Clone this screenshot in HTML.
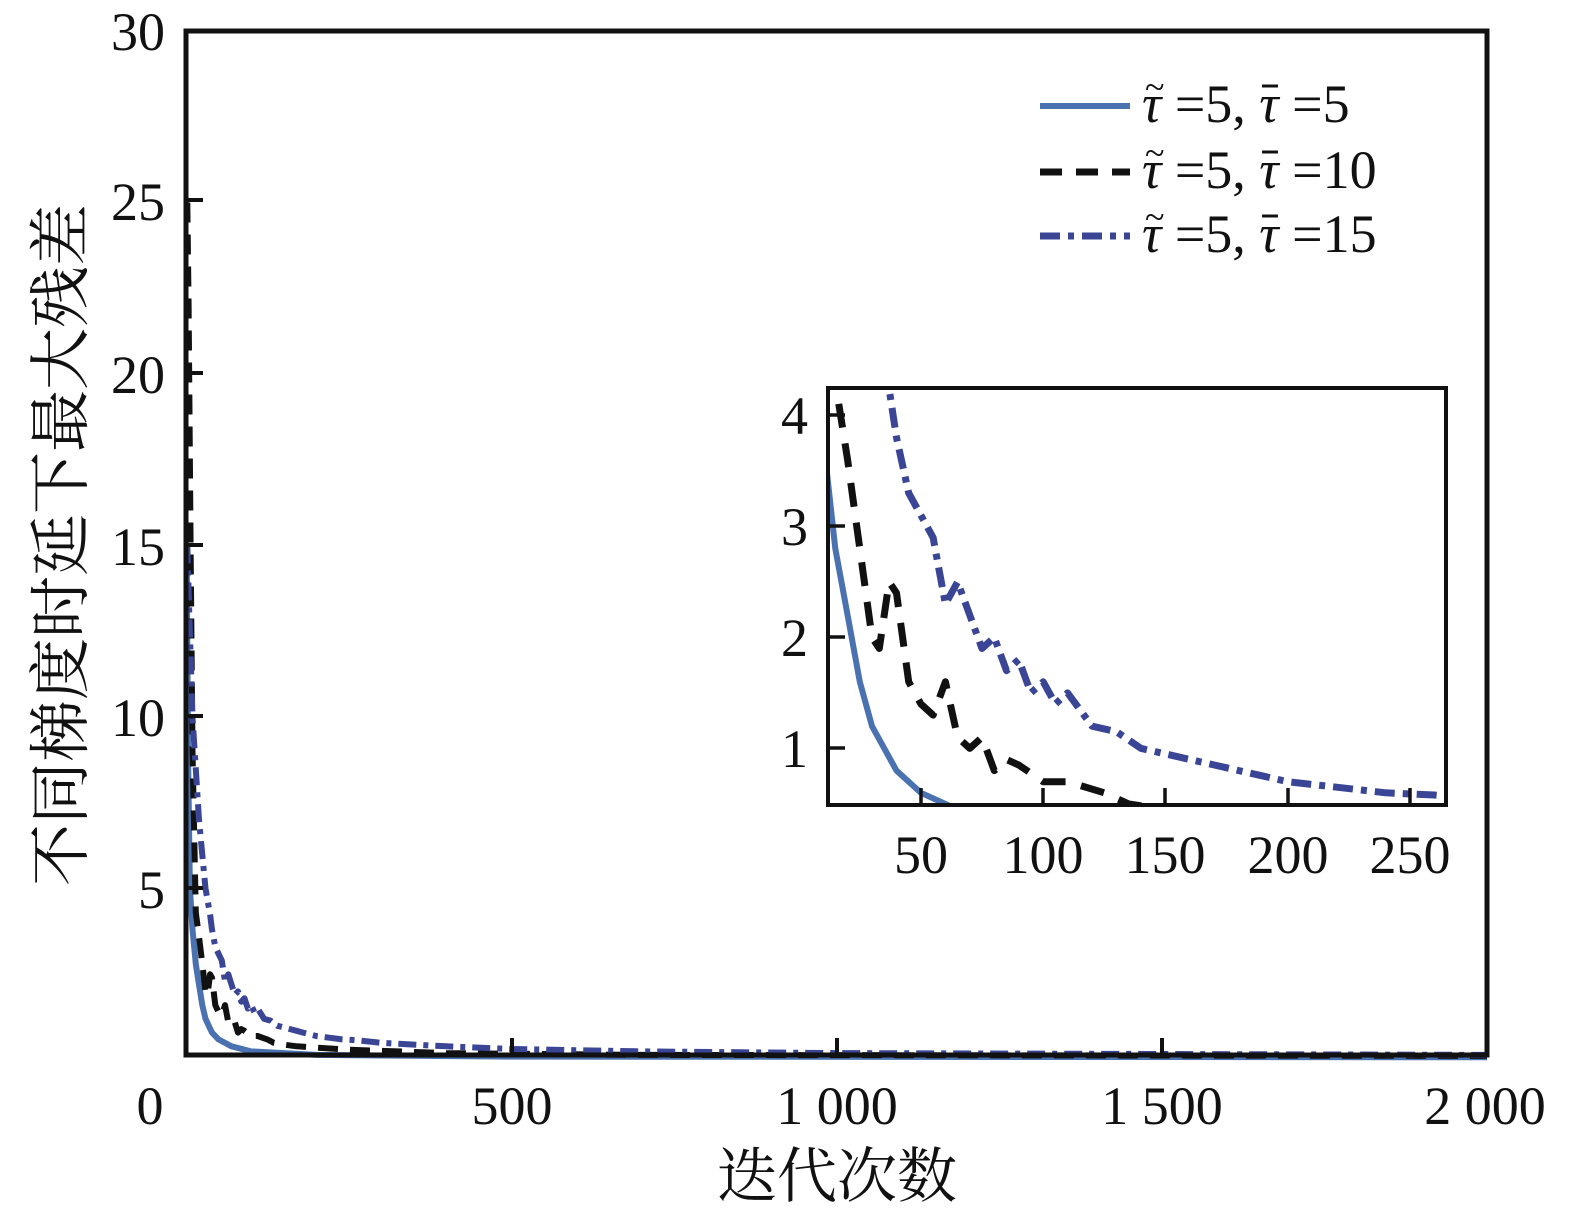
<!DOCTYPE html>
<html><head><meta charset="utf-8"><style>
html,body{margin:0;padding:0;background:#fff;}
svg{display:block}
text{font-family:"Liberation Serif","Times New Roman","Noto Serif CJK SC",serif;fill:#111}
</style></head><body>
<svg id="s" width="1570" height="1216" viewBox="0 0 1570 1216" xmlns="http://www.w3.org/2000/svg">
<rect width="1570" height="1216" fill="#fff"/>
<g id="main"></g>
<rect x="186" y="31" width="1301" height="1024" fill="none" stroke="#111" stroke-width="5"/>
<g stroke="#111" stroke-width="4">
<line x1="512" y1="1055" x2="512" y2="1038"/><line x1="837" y1="1055" x2="837" y2="1038"/><line x1="1162" y1="1055" x2="1162" y2="1038"/>
<line x1="186" y1="888" x2="203" y2="888"/><line x1="186" y1="716" x2="203" y2="716"/><line x1="186" y1="545" x2="203" y2="545"/><line x1="186" y1="373" x2="203" y2="373"/><line x1="186" y1="200" x2="203" y2="200"/>
</g>
<g font-size="54" text-anchor="end">
<text x="165" y="50">30</text><text x="165" y="220">25</text><text x="165" y="393">20</text><text x="165" y="565">15</text><text x="165" y="736">10</text><text x="165" y="908">5</text>
</g>
<g font-size="54" text-anchor="middle">
<text x="150" y="1124">0</text><text x="512" y="1124">500</text><text x="837" y="1124">1 000</text><text x="1162" y="1124">1 500</text><text x="1485" y="1124">2 000</text>
</g>
<text x="837" y="1197" font-size="60" text-anchor="middle" style="font-family:'Noto Serif CJK SC',serif">迭代次数</text>
<text transform="translate(82,545) rotate(-90)" font-size="62" text-anchor="middle" style="font-family:'Noto Serif CJK SC',serif">不同梯度时延下最大残差</text>
<!-- legend -->
<line x1="1040" y1="106" x2="1130" y2="106" stroke="#4a72b0" stroke-width="6"/>
<line x1="1040" y1="172" x2="1130" y2="172" stroke="#111" stroke-width="7" stroke-dasharray="22,14"/>
<line x1="1040" y1="236" x2="1130" y2="236" stroke="#3a4596" stroke-width="7" stroke-dasharray="20,8,6,8"/>
<g font-size="54">
<text x="1142" y="122"><tspan font-style="italic">τ</tspan> =5, <tspan font-style="italic">τ</tspan> =5</text>
<text x="1142" y="188"><tspan font-style="italic">τ</tspan> =5, <tspan font-style="italic">τ</tspan> =10</text>
<text x="1142" y="252"><tspan font-style="italic">τ</tspan> =5, <tspan font-style="italic">τ</tspan> =15</text>
</g>
<g font-size="36">
<text x="1145" y="99">~</text><text x="1145" y="165">~</text><text x="1145" y="229">~</text>
</g>
<g stroke="#111" stroke-width="3">
<line x1="1262" y1="86" x2="1278" y2="86"/><line x1="1262" y1="152" x2="1278" y2="152"/><line x1="1262" y1="216" x2="1278" y2="216"/>
</g>
<!-- inset -->
<rect x="828" y="388" width="618" height="417" fill="#fff"/>
<defs><clipPath id="ic"><rect x="828" y="388" width="618" height="417"/></clipPath></defs>
<g id="inset" clip-path="url(#ic)"></g>
<rect x="828" y="388" width="618" height="417" fill="none" stroke="#111" stroke-width="4"/>
<g stroke="#111" stroke-width="3.5">
<line x1="921" y1="805" x2="921" y2="788"/><line x1="1043" y1="805" x2="1043" y2="788"/><line x1="1165" y1="805" x2="1165" y2="788"/><line x1="1288" y1="805" x2="1288" y2="788"/><line x1="1410" y1="805" x2="1410" y2="788"/>
<line x1="828" y1="415" x2="845" y2="415"/><line x1="828" y1="526" x2="845" y2="526"/><line x1="828" y1="637" x2="845" y2="637"/><line x1="828" y1="748" x2="845" y2="748"/>
</g>
<g font-size="54" text-anchor="end">
<text x="808" y="434">4</text><text x="808" y="545">3</text><text x="808" y="656">2</text><text x="808" y="767">1</text>
</g>
<g font-size="54" text-anchor="middle">
<text x="921" y="873">50</text><text x="1043" y="873">100</text><text x="1165" y="873">150</text><text x="1288" y="873">200</text><text x="1410" y="873">250</text>
</g>
</svg>
<script>
function P(pts,fx,fy){return pts.map((p,i)=>(i?'L':'M')+fx(p[0]).toFixed(1)+','+fy(p[1]).toFixed(1)).join('');}
function add(g,d,c,w,da){var e=document.createElementNS('http://www.w3.org/2000/svg','path');e.setAttribute('d',d);e.setAttribute('fill','none');e.setAttribute('stroke',c);e.setAttribute('stroke-width',w);if(da)e.setAttribute('stroke-dasharray',da);e.setAttribute('stroke-linejoin','round');document.getElementById(g).appendChild(e);}
var mx=x=>186+x*0.6505, my=y=>1060-y*34.3;
var ix=x=>828+(x-12)*2.445, iy=y=>805-(y-0.49)*111;
var blue=[[1,15],[3,9],[6,5],[10,3.8],[15,2.8],[20,2.2],[25,1.6],[30,1.2],[40,0.8],[50,0.6],[70,0.4],[100,0.25],[200,0.15],[500,0.1],[2000,0.08]];
var black=[[2,25],[4,22],[7,15],[10,9],[15,4.3],[20,3.6],[25,2.8],[30,2.0],[33,1.9],[37,2.5],[40,2.4],[45,1.6],[50,1.4],[55,1.3],[60,1.6],[65,1.1],[70,1.0],[75,1.1],[80,0.8],[85,0.9],[90,0.85],[100,0.7],[110,0.7],[125,0.6],[135,0.5],[150,0.45],[170,0.4],[250,0.3],[400,0.2],[700,0.15],[2000,0.12]];
var dd=[[2,15],[5,13],[10,10],[20,7],[30,5],[37,4.24],[40,3.8],[45,3.3],[50,3.1],[55,2.9],[60,2.3],[65,2.5],[70,2.2],[75,1.9],[80,2.0],[85,1.7],[90,1.8],[95,1.5],[100,1.6],[105,1.4],[110,1.5],[120,1.2],[130,1.15],[140,1.0],[150,0.95],[160,0.9],[170,0.85],[180,0.8],[190,0.75],[200,0.7],[220,0.65],[240,0.6],[260,0.58],[300,0.5],[400,0.4],[500,0.32],[700,0.25],[1000,0.2],[2000,0.15]];
add('main',P(blue,mx,my),'#4a72b0',6);
add('main',P(black,mx,my),'#111',6,'20,12');
add('main',P(dd,mx,my),'#3a4596',6,'18,7,5,7');
add('inset',P(blue,ix,iy),'#4a72b0',6);
add('inset',P(black,ix,iy),'#111',7,'24,16');
add('inset',P(dd,ix,iy),'#3a4596',7,'20,8,6,8');
</script>
</body></html>
